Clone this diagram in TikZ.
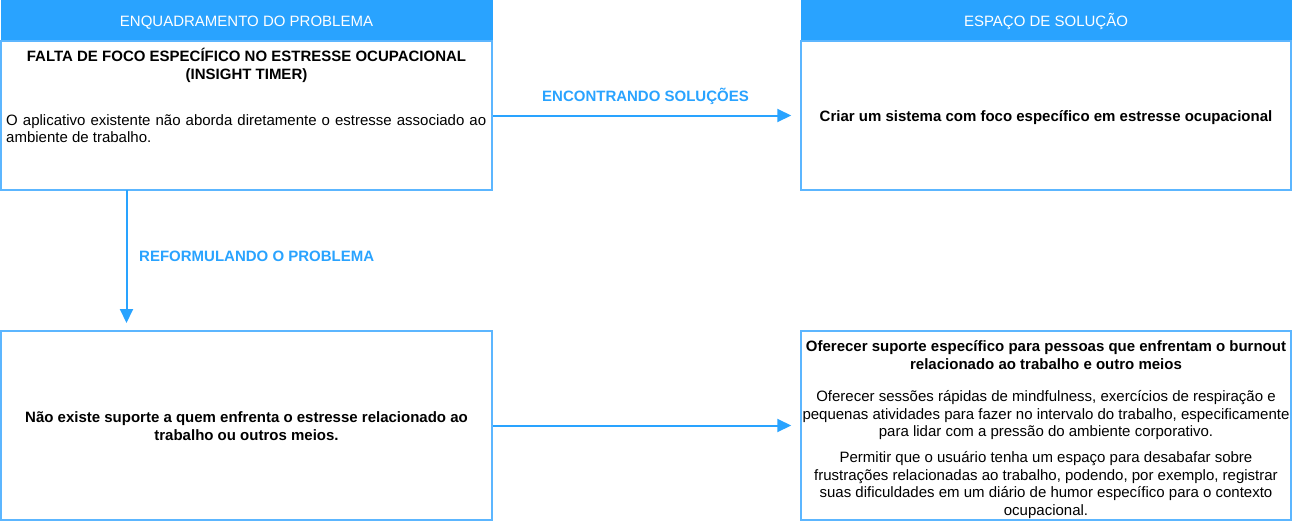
\documentclass[tikz,border=0pt]{standalone}
\usepackage{fontspec}
\setmainfont{Liberation Sans}
\usetikzlibrary{arrows.meta}
\definecolor{hdrblue}{RGB}{41,163,255}
\definecolor{boxblue}{RGB}{92,182,255}
\begin{document}
\begin{tikzpicture}[x=1pt,y=-1pt,
  hdr/.style={draw=hdrblue, fill=hdrblue, rectangle, inner sep=0pt},
  box/.style={draw=boxblue, line width=1.5pt, fill=white, rectangle, inner sep=0pt},
  ln/.style={inner sep=0pt, anchor=base, font=\fontsize{15}{18}\selectfont},
  lnb/.style={ln, font=\fontsize{15}{18}\selectfont\bfseries},
  hdrtxt/.style={ln, text=white},
  lbl/.style={inner sep=0pt, text=hdrblue, font=\fontsize{15}{18}\selectfont\bfseries},
  arr/.style={draw=hdrblue, line width=2pt, -{Triangle[length=14pt,width=13pt]}}]
\useasboundingbox[fill=white] (0,0) rectangle (1292,522);
% headers
\node[hdr, minimum width=491pt, minimum height=40pt] (hl) at (246.5,20) {};
\node[hdr, minimum width=490pt, minimum height=40pt] (hr) at (1046,20) {};
\node[hdrtxt] (hlt) at (246.5,26) {ENQUADRAMENTO DO PROBLEMA};
\node[hdrtxt] (hrt) at (1046,26) {ESPAÇO DE SOLUÇÃO};
% boxes
\node[box, minimum width=491pt, minimum height=149pt] (tl) at (246.5,115.5) {};
\node[box, minimum width=490pt, minimum height=149pt] (tr) at (1046,115.5) {};
\node[box, minimum width=491pt, minimum height=189pt] (bl) at (246.5,425.5) {};
\node[box, minimum width=490pt, minimum height=189pt] (br) at (1046,425.5) {};
% top-left text
\node[lnb] (tl1) at (246.5,61.7) {FALTA DE FOCO ESPECÍFICO NO ESTRESSE OCUPACIONAL};
\node[lnb] (tl2) at (246.5,79.5) {(INSIGHT TIMER)};
\node[ln, anchor=base west] (tl3) at (6,125) {\makebox[480pt][s]{O aplicativo existente não aborda diretamente o estresse associado ao}};
\node[ln, anchor=base west] (tl4) at (6,142.7) {ambiente de trabalho.};
% top-right text
\node[lnb] (tr1) at (1046,121.7) {Criar um sistema com foco específico em estresse ocupacional};
% bottom-left text
\node[lnb] (bl1) at (246.5,422.7) {Não existe suporte a quem enfrenta o estresse relacionado ao};
\node[lnb] (bl2) at (246.5,440.2) {trabalho ou outros meios.};
% bottom-right text
\node[lnb] (br1) at (1046,351.7) {Oferecer suporte específico para pessoas que enfrentam o burnout};
\node[lnb] (br2) at (1046,369.3) {relacionado ao trabalho e outro meios};
\node[ln] (br3) at (1046,401.7) {Oferecer sessões rápidas de mindfulness, exercícios de respiração e};
\node[ln] (br4) at (1046,419.3) {pequenas atividades para fazer no intervalo do trabalho, especificamente};
\node[ln] (br5) at (1046,436.9) {para lidar com a pressão do ambiente corporativo.};
\node[ln] (br6) at (1046,462.5) {Permitir que o usuário tenha um espaço para desabafar sobre};
\node[ln] (br7) at (1046,480.1) {frustrações relacionadas ao trabalho, podendo, por exemplo, registrar};
\node[ln] (br8) at (1046,497.7) {suas dificuldades em um diário de humor específico para o contexto};
\node[ln] (br9) at (1046,515.3) {ocupacional.};
% connectors
\draw[arr, shorten >=9pt] (tl.east) -- (tr.west);
\draw[arr, shorten >=9pt] (bl.east) -- (br.west);
\coordinate (vs) at (126.5,190);
\coordinate (ve) at (126.5,331);
\draw[arr, shorten >=8pt] (vs) -- (ve);
\node[lbl, anchor=base] (lh) at (645.5,101) {ENCONTRANDO SOLUÇÕES};
\node[lbl, anchor=base west] (lv) at (139,261) {REFORMULANDO O PROBLEMA};
\end{tikzpicture}
\end{document}
